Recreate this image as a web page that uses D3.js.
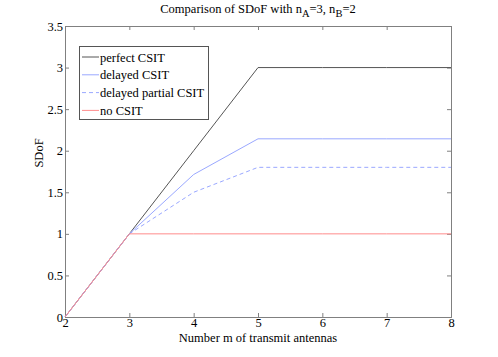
<!DOCTYPE html>
<html lang="en">
<head>
<script src="https://d3js.org/d3.v7.min.js"></script>
<style>
  body { margin: 0; background: #fff; }
  text { font-family: "Liberation Serif", "Times New Roman", serif; fill: #000; }
</style>
</head>
<body>
<div id="chart"></div>
<script>
var antennas = [2, 3, 4, 5, 6, 7, 8];
var perfect = [0, 1, 2, 3, 3, 3, 3];
var delayed = [0, 1, 1.714, 2.143, 2.143, 2.143, 2.143];
var delayedPartial = [0, 1, 1.5, 1.8, 1.8, 1.8, 1.8];
var noCsit = [0, 1, 1, 1, 1, 1, 1];
var yTicks = [0, 0.5, 1, 1.5, 2, 2.5, 3, 3.5];
var xTicks = [2, 3, 4, 5, 6, 7, 8];

var series = [
  {name: "perfect CSIT", values: perfect, color: "#555555", dash: null},
  {name: "delayed CSIT", values: delayed, color: "#9aa8ff", dash: null},
  {name: "delayed partial CSIT", values: delayedPartial, color: "#9aa8ff", dash: "4,3"},
  {name: "no CSIT", values: noCsit, color: "#ff8c8c", dash: null}
];

var W = 498, H = 357;
var pLeft = 65, pRight = 451, pTop = 26, pBottom = 317;
var fs = 12.5;

var svg = d3.select("#chart").append("svg")
  .attr("width", W).attr("height", H);

var x = d3.scaleLinear().domain([2, 8]).range([pLeft, pRight]);
var y = d3.scaleLinear().domain([0, 3.5]).range([pBottom, pTop]);

// axes, matlab style (ticks inside, box)
var axColor = "#808080";
svg.append("g").attr("transform", "translate(0," + pBottom + ")")
  .call(d3.axisBottom(x).tickValues(xTicks).tickSize(-4).tickPadding(1).tickFormat(d3.format("d")))
  .call(g => g.selectAll("text").attr("font-size", fs));
svg.append("g").attr("transform", "translate(0," + pTop + ")")
  .call(d3.axisTop(x).tickValues(xTicks).tickSize(-4).tickFormat(""));
svg.append("g").attr("transform", "translate(" + pLeft + ",0)")
  .call(d3.axisLeft(y).tickValues(yTicks).tickSize(-4).tickPadding(2).tickFormat(d => d))
  .call(g => g.selectAll("text").attr("font-size", fs));
svg.append("g").attr("transform", "translate(" + pRight + ",0)")
  .call(d3.axisRight(y).tickValues(yTicks).tickSize(-4).tickFormat(""));
svg.selectAll(".domain").attr("stroke", axColor);
svg.selectAll(".tick line").attr("stroke", axColor);
svg.selectAll(".tick text").attr("font-family", "Liberation Serif");

var line = d3.line().x((d, i) => x(antennas[i])).y(d => y(d));

svg.selectAll(".series").data(series).enter()
  .append("path")
  .attr("class", "series")
  .attr("d", d => line(d.values))
  .attr("fill", "none")
  .attr("stroke", d => d.color)
  .attr("stroke-width", 1)
  .attr("stroke-dasharray", d => d.dash);

// title
var title = svg.append("text").attr("x", 258).attr("y", 13)
  .attr("text-anchor", "middle").attr("font-size", fs);
title.append("tspan").text("Comparison of SDoF with n");
title.append("tspan").attr("font-size", 10.5).attr("dy", 4).text("A");
title.append("tspan").attr("dy", -4).text("=3, n");
title.append("tspan").attr("font-size", 10.5).attr("dy", 4).text("B");
title.append("tspan").attr("dy", -4).text("=2");

svg.append("text").attr("x", 258).attr("y", 342)
  .attr("text-anchor", "middle").attr("font-size", fs)
  .text("Number m of transmit antennas");

svg.append("text").attr("transform", "translate(43,153) rotate(-90)")
  .attr("text-anchor", "middle").attr("font-size", fs)
  .text("SDoF");

// legend
var lg = svg.append("g");
lg.append("rect").attr("x", 79.5).attr("y", 46.5).attr("width", 129).attr("height", 73)
  .attr("fill", "#fff").attr("stroke", "#555").attr("stroke-width", 1);
series.forEach(function(s, i) {
  var ly = 57 + i * 17.8;
  lg.append("line").attr("x1", 82).attr("x2", 99).attr("y1", ly).attr("y2", ly)
    .attr("stroke", s.color).attr("stroke-dasharray", s.dash);
  lg.append("text").attr("x", 100).attr("y", ly + 4.5).attr("font-size", fs).text(s.name);
});
</script>
</body>
</html>
